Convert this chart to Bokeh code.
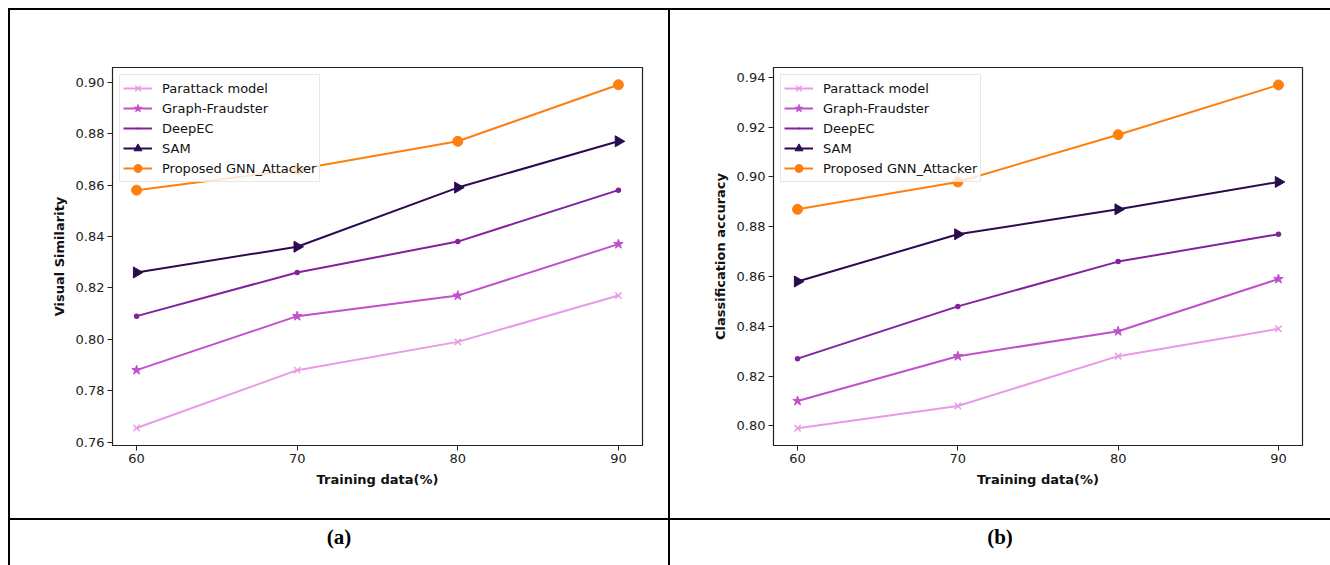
import numpy as np
from bokeh.plotting import figure
from bokeh.layouts import row, column
from bokeh.models import (Legend, LegendItem, FixedTicker, NumeralTickFormatter,
                          Range1d, Div)
from bokeh.embed import file_html
from bokeh.resources import INLINE

# ---------------- data ----------------
training = [60, 70, 80, 90]
series_names = ["Parattack model", "Graph-Fraudster", "DeepEC", "SAM", "Proposed GNN_Attacker"]

vs_parattack = [0.7655, 0.788, 0.799, 0.817]
vs_fraudster = [0.788, 0.809, 0.817, 0.837]
vs_deepec = [0.809, 0.826, 0.838, 0.858]
vs_sam = [0.826, 0.836, 0.859, 0.877]
vs_proposed = [0.858, 0.866, 0.877, 0.899]

ca_parattack = [0.799, 0.808, 0.828, 0.839]
ca_fraudster = [0.810, 0.828, 0.838, 0.859]
ca_deepec = [0.827, 0.848, 0.866, 0.877]
ca_sam = [0.858, 0.877, 0.887, 0.898]
ca_proposed = [0.887, 0.898, 0.917, 0.937]

vs_ticks = [0.76, 0.78, 0.80, 0.82, 0.84, 0.86, 0.88, 0.90]
ca_ticks = [0.80, 0.82, 0.84, 0.86, 0.88, 0.90, 0.92, 0.94]
x_ticks = [60, 70, 80, 90]
captions = ["(a)", "(b)"]

colors = ["#e99ae6", "#c24fcc", "#83219f", "#2b0b4f", "#ff7f0e"]
markers = ["x", "star", "dot", "triangle", "circle"]
msizes = [9, 10, 22, 11, 10]

FONT = "DejaVu Sans"
PANEL_H = 508


def make_panel(width, left_b, right_b, ydata, yticks, yrange, ylabel):
    p = figure(width=width, height=PANEL_H, output_backend="svg", toolbar_location=None,
               x_range=Range1d(58.5, 91.5), y_range=Range1d(*yrange),
               min_border_left=left_b, min_border_right=right_b,
               min_border_top=57, min_border_bottom=73, margin=0)
    p.background_fill_color = "white"
    p.border_fill_color = "white"
    p.outline_line_color = "#222222"
    p.outline_line_width = 1.2
    p.xgrid.visible = False
    p.ygrid.visible = False

    for ax in (p.xaxis[0], p.yaxis[0]):
        ax.major_tick_in = 0
        ax.major_tick_out = 5
        ax.minor_tick_line_color = None
        ax.axis_line_color = "#222222"
        ax.major_tick_line_color = "#222222"
        ax.major_label_text_font = FONT
        ax.major_label_text_font_size = "13px"
        ax.major_label_text_color = "#222222"
        ax.axis_label_text_font = FONT
        ax.axis_label_text_font_size = "13px"
        ax.axis_label_text_font_style = "bold"
        ax.axis_label_text_color = "#111111"
        ax.major_label_standoff = 3
    p.xaxis.ticker = FixedTicker(ticks=x_ticks)
    p.yaxis.ticker = FixedTicker(ticks=yticks)
    p.yaxis.formatter = NumeralTickFormatter(format="0.00")
    p.xaxis.axis_label = "Training data(%)"
    p.yaxis.axis_label = ylabel
    p.xaxis.axis_label_standoff = 6
    p.yaxis.axis_label_standoff = 6

    items = []
    for name, ys, c, m, s in zip(series_names, ydata, colors, markers, msizes):
        ln = p.line(training, ys, line_color=c, line_width=2)
        kw = dict(size=s, color=c)
        if m == "triangle":
            kw["angle"] = -np.pi / 2
        if m == "x":
            kw["line_width"] = 1.5
        sc = p.scatter(training, ys, marker=m, **kw)
        items.append(LegendItem(label=name, renderers=[ln, sc]))

    leg = Legend(items=items, location="top_left")
    leg.margin = 7
    leg.padding = 3
    leg.spacing = 0
    leg.label_height = 20
    leg.glyph_height = 20
    leg.glyph_width = 29
    leg.label_standoff = 10
    leg.label_text_font = FONT
    leg.label_text_font_size = "13px"
    leg.label_text_color = "#111111"
    leg.border_line_color = "#d0d0d0"
    leg.background_fill_alpha = 0.8
    p.add_layout(leg, "center")
    return p


left = make_panel(658, 102, 26,
                  [vs_parattack, vs_fraudster, vs_deepec, vs_sam, vs_proposed],
                  vs_ticks, (0.7587, 0.9057), "Visual Similarity")
right = make_panel(660, 103, 28,
                   [ca_parattack, ca_fraudster, ca_deepec, ca_sam, ca_proposed],
                   ca_ticks, (0.7921, 0.9440), "Classification accuracy")


def bar(w, h):
    return Div(text="", width=w, height=h, margin=0,
               styles={"background-color": "black"})


def spacer(w, h):
    return Div(text="", width=w, height=h, margin=0)


def caption(txt, w, h):
    html = ('<div style="width:%dpx;height:%dpx;line-height:34px;text-align:center;'
            'font-family:\'Liberation Serif\',serif;font-weight:bold;font-size:21px;'
            'color:black;">%s</div>' % (w, h, txt))
    return Div(text=html, width=w, height=h, margin=0)


top_row = row(bar(2, PANEL_H), left, bar(2, PANEL_H), right, spacing=0, margin=0)
cap_row = row(bar(2, 45), caption(captions[0], 658, 45), bar(2, 45),
              caption(captions[1], 660, 45), spacing=0, margin=0)
inner = column(bar(1322, 2), top_row, bar(1322, 2), cap_row, spacing=0, margin=0)
page = column(spacer(1330, 8),
              row(spacer(8, 557), inner, spacing=0, margin=0),
              spacing=0, margin=0)

open("out.html", "w").write(file_html(page, INLINE))
